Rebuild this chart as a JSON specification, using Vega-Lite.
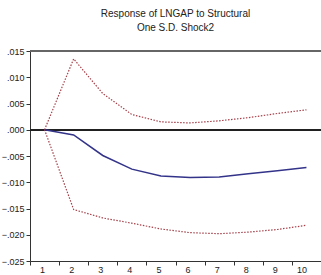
{
  "$schema": "https://vega.github.io/schema/vega-lite/v6.json",
  "autosize": {"type": "none"},
  "width": 291,
  "height": 210,
  "padding": {"left": 30, "top": 51, "right": 0, "bottom": 14},
  "background": "white",
  "title": {
    "text": ["Response of LNGAP to Structural", "One S.D. Shock2"],
    "fontSize": 10,
    "font": "Liberation Sans",
    "fontWeight": "normal",
    "color": "#222",
    "lineHeight": 14,
    "anchor": "middle",
    "offset": 14
  },
  "config": {
    "view": {"stroke": null},
    "axis": {"labelFont": "Liberation Sans", "labelFontSize": 9, "labelColor": "#222", "domainColor": "#333", "tickColor": "#333", "grid": false, "title": null}
  },
  "data": {
    "values": [
      {"period": 1, "series": "mean", "value": 0},
      {"period": 2, "series": "mean", "value": -0.001},
      {"period": 3, "series": "mean", "value": -0.0049},
      {"period": 4, "series": "mean", "value": -0.0075},
      {"period": 5, "series": "mean", "value": -0.0088},
      {"period": 6, "series": "mean", "value": -0.0091},
      {"period": 7, "series": "mean", "value": -0.009},
      {"period": 8, "series": "mean", "value": -0.0084},
      {"period": 9, "series": "mean", "value": -0.0078},
      {"period": 10, "series": "mean", "value": -0.0072},
      {"period": 1, "series": "upper", "value": 0},
      {"period": 2, "series": "upper", "value": 0.0135},
      {"period": 3, "series": "upper", "value": 0.0069},
      {"period": 4, "series": "upper", "value": 0.0029},
      {"period": 5, "series": "upper", "value": 0.0015},
      {"period": 6, "series": "upper", "value": 0.0013},
      {"period": 7, "series": "upper", "value": 0.0017},
      {"period": 8, "series": "upper", "value": 0.0023},
      {"period": 9, "series": "upper", "value": 0.0031},
      {"period": 10, "series": "upper", "value": 0.0038},
      {"period": 1, "series": "lower", "value": 0},
      {"period": 2, "series": "lower", "value": -0.0152},
      {"period": 3, "series": "lower", "value": -0.0168},
      {"period": 4, "series": "lower", "value": -0.0178},
      {"period": 5, "series": "lower", "value": -0.0189},
      {"period": 6, "series": "lower", "value": -0.0196},
      {"period": 7, "series": "lower", "value": -0.0198},
      {"period": 8, "series": "lower", "value": -0.0195},
      {"period": 9, "series": "lower", "value": -0.019},
      {"period": 10, "series": "lower", "value": -0.0182}
    ]
  },
  "layer": [
    {
      "mark": {"type": "rule", "color": "#222", "strokeWidth": 1},
      "encoding": {"y": {"datum": 0, "type": "quantitative"}}
    },
    {
      "transform": [{"filter": "datum.series !== 'mean'"}],
      "mark": {"type": "line", "color": "#a5404a", "strokeWidth": 1.2, "strokeDash": [1.5, 1.5]},
      "encoding": {
        "x": {"field": "period", "type": "ordinal"},
        "y": {"field": "value", "type": "quantitative"},
        "detail": {"field": "series"}
      }
    },
    {
      "transform": [{"filter": "datum.series === 'mean'"}],
      "mark": {"type": "line", "color": "#33338a", "strokeWidth": 1.5},
      "encoding": {
        "x": {
          "field": "period",
          "type": "ordinal",
          "sort": null,
          "scale": {"type": "band", "paddingInner": 0, "paddingOuter": 0},
          "axis": {"labelAngle": 0, "tickBand": "extent", "labelPadding": 4, "tickSize": 4, "domainWidth": 1, "labelOverlap": false, "labelFlush": false}
        },
        "y": {
          "field": "value",
          "type": "quantitative",
          "scale": {"domain": [-0.025, 0.015], "nice": false, "zero": false},
          "axis": {"values": [-0.025, -0.02, -0.015, -0.01, -0.005, 0, 0.005, 0.01, 0.015], "tickCount": 20, "labelExpr": "replace(format(datum.value, '.3f'), '0.', '.')", "tickSize": 4, "labelPadding": 2, "labelOverlap": false, "labelFlush": false, "labelBound": false}
        }
      }
    },
    {
      "mark": {"type": "rule", "color": "#666", "strokeWidth": 2},
      "encoding": {"y": {"datum": 0.015, "type": "quantitative"}}
    }
  ]
}
